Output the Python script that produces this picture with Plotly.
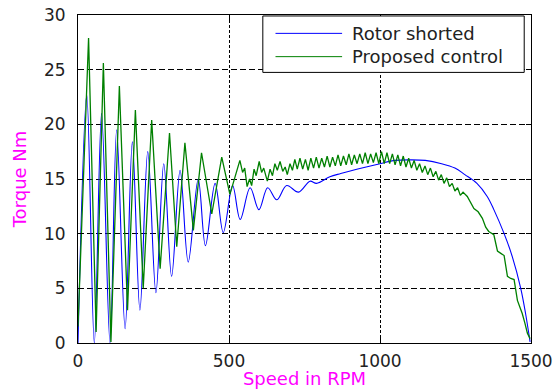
import plotly.graph_objects as go

# ---- data ----
series_names = ["Rotor shorted", "Proposed control"]

rotor_rpm = [0, 29, 54, 78, 106, 128, 156, 180, 205, 231, 258, 284, 310, 338, 365,
             398, 422, 454, 481, 512, 537, 570, 599, 628, 658, 691, 730, 768, 790,
             834, 870, 923, 1000, 1050, 1100, 1150, 1204, 1248, 1281, 1321, 1355,
             1377, 1411, 1438, 1466, 1482, 1497]
rotor_torque = [0.0, 22.7, 0.0, 21.0, 0.0, 19.5, 1.3, 18.4, 3.0, 17.5, 4.6, 16.4, 6.1,
                15.8, 7.4, 15.0, 8.9, 14.6, 10.1, 14.4, 11.3, 14.2, 12.2, 14.2, 13.1,
                14.4, 13.8, 14.8, 14.6, 15.2, 15.5, 15.9, 16.4, 16.7, 16.75, 16.7,
                16.4, 16.0, 15.4, 14.6, 13.4, 12.2, 10.0, 7.9, 5.0, 2.7, 0.1]

proposed_rpm = [0, 35, 60, 84, 109, 137, 164, 190, 216, 244, 272, 303, 327, 354, 382,
                409, 443, 476, 503, 536, 545, 552, 560, 568, 575, 583, 590, 600, 608,
                615, 627, 636, 644, 652, 660, 669, 678, 686, 693, 702, 710, 718, 726,
                735, 744, 753, 762, 771, 780, 789, 798, 807, 816, 825, 834, 843, 852,
                861, 870, 879, 888, 897, 906, 915, 924, 933, 942, 951, 960, 969, 978,
                987, 996, 1005, 1014, 1023, 1032, 1041, 1050, 1059, 1068, 1077, 1086,
                1095, 1104, 1113, 1122, 1131, 1140, 1149, 1158, 1167, 1176, 1185, 1194,
                1203, 1212, 1221, 1230, 1239, 1248, 1257, 1266, 1275, 1289, 1300, 1311,
                1325, 1339, 1350, 1360, 1377, 1389, 1400, 1411, 1422, 1433, 1444, 1455,
                1463, 1471, 1480, 1488, 1497]
proposed_torque = [1.5, 27.9, 1.0, 25.6, 0.1, 23.5, 3.0, 21.3, 5.0, 20.4, 6.8, 19.2, 8.8,
                   18.3, 10.3, 17.4, 11.8, 17.0, 13.6, 16.7, 15.6, 16.0, 14.3, 15.0, 14.4,
                   15.9, 15.3, 16.6, 15.6, 16.0, 14.8, 15.9, 15.3, 16.4, 15.8, 16.6, 15.7,
                   16.1, 15.4, 16.4, 15.8, 16.8, 15.9, 16.9, 15.9, 16.8, 15.8, 16.9, 16.0,
                   17.0, 16.0, 16.9, 16.1, 17.1, 16.1, 17.0, 16.2, 17.2, 16.2, 17.1, 16.3,
                   17.3, 16.3, 17.2, 16.4, 17.3, 16.4, 17.4, 16.4, 17.3, 16.5, 17.4, 16.4,
                   17.5, 16.4, 17.4, 16.4, 17.3, 16.3, 17.2, 16.2, 17.1, 16.1, 16.9, 16.0,
                   16.7, 15.8, 16.4, 15.6, 16.2, 15.4, 16.0, 15.2, 15.7, 14.9, 15.4, 14.6,
                   15.1, 14.3, 14.6, 13.9, 14.2, 13.5, 13.8, 13.4, 12.8, 12.3, 12.0, 11.4,
                   10.6, 10.2, 9.9, 8.4, 8.2, 8.0, 6.1, 5.9, 5.8, 3.9, 3.3, 2.7, 1.8, 0.9,
                   0.4]

x_ticks = [0, 500, 1000, 1500]
y_ticks = [0, 5, 10, 15, 20, 25, 30]
x_title = "Speed in RPM"
y_title = "Torque Nm"

colors = ["#0000FF", "#008000"]

fig = go.Figure()
fig.add_trace(go.Scatter(x=rotor_rpm, y=rotor_torque, mode="lines",
                         name=series_names[0],
                         line=dict(color=colors[0], width=1.1, shape="spline", smoothing=1.0)))
fig.add_trace(go.Scatter(x=proposed_rpm, y=proposed_torque, mode="lines",
                         name=series_names[1],
                         line=dict(color=colors[1], width=1.3)))

FONT = "DejaVu Sans"
axis_common = dict(showline=True, linecolor="black", linewidth=1, mirror="ticks",
                   ticks="inside", ticklen=5, tickcolor="black", showgrid=True,
                   gridcolor="black", gridwidth=1, zeroline=False, automargin=False,
                   tickfont=dict(family=FONT, size=17, color="#222222"))

fig.update_xaxes(range=[0, 1500], tickvals=x_ticks, griddash="3px,2px",
                 ticklabelstandoff=3,
                 title=dict(text=x_title, standoff=4,
                            font=dict(family=FONT, size=18, color="#FF00FF")),
                 **axis_common)
fig.update_yaxes(range=[0, 30], tickvals=y_ticks, griddash="6px,3px",
                 ticklabelstandoff=8,
                 title=dict(text=y_title, standoff=12,
                            font=dict(family=FONT, size=18, color="#FF00FF")),
                 **axis_common)

# legend box drawn like the reference (long line samples)
shapes = [dict(type="rect", xref="paper", yref="paper", x0=0.408, x1=0.985,
               y0=0.825, y1=0.997, line=dict(color="black", width=1),
               fillcolor="white", layer="above")]
annotations = []
rows_y = [0.944, 0.873]
for i, name in enumerate(series_names):
    shapes.append(dict(type="line", xref="paper", yref="paper", x0=0.436, x1=0.583,
                       y0=rows_y[i], y1=rows_y[i], line=dict(color=colors[i], width=1),
                       layer="above"))
    annotations.append(dict(xref="paper", yref="paper", x=0.600, y=rows_y[i],
                            xanchor="left", yanchor="middle", showarrow=False,
                            text=name, font=dict(family=FONT, size=18, color="#222222")))

fig.update_layout(width=554, height=389, margin=dict(l=78, r=23, t=15, b=46),
                  plot_bgcolor="white", paper_bgcolor="white", showlegend=False,
                  shapes=shapes, annotations=annotations)

fig.write_html("out.html")
